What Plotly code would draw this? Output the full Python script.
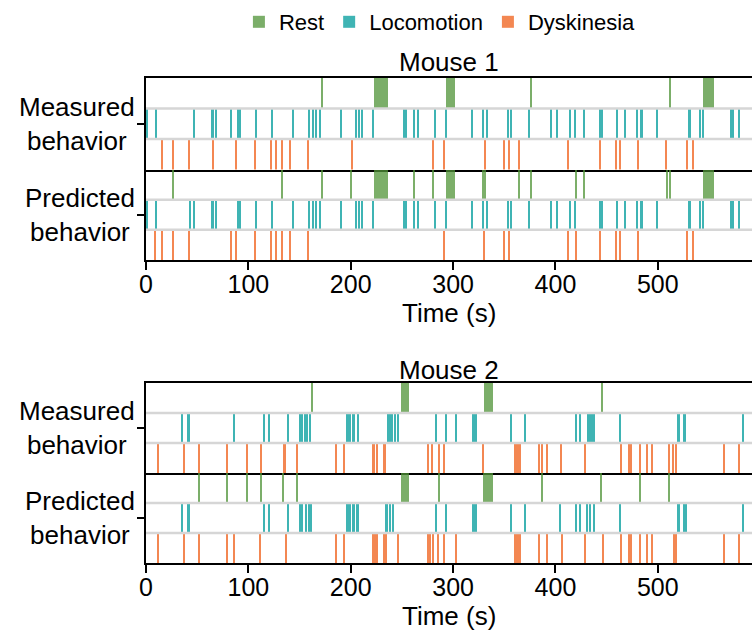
import plotly.graph_objects as go

# ---------------- data: behaviour bouts as [onset_s, duration_s] ----------------
categories = ["Rest", "Locomotion", "Dyskinesia"]
x_ticks = [0, 100, 200, 300, 400, 500]
t_max = 592

m1_meas_rest = [[171.0,1.5],[223.0,13.0],[293.0,9.0],[375.5,1.5],[511.5,1.5],[544.5,10.5]]
m1_meas_loco = [[0.8,1.4],[9.0,1.4],[46.8,1.4],[63.5,3.0],[68.0,1.4],[82.3,1.4],[89.2,3.3],[107.1,1.4],
                [123.0,1.4],[142.9,1.4],[159.2,1.4],[162.4,1.4],[165.7,1.4],[169.6,1.4],[189.9,1.8],
                [204.2,2.2],[207.4,1.8],[210.3,1.4],[221.1,1.4],[251.4,3.3],[260.6,2.5],[264.4,2.6],
                [282.3,1.4],[292.4,1.4],[317.8,1.4],[328.0,2.0],[332.4,1.4],[352.9,1.4],[355.9,1.4],
                [373.2,1.4],[395.0,1.4],[400.3,2.6],[413.9,1.4],[418.7,1.4],[427.6,1.4],[442.6,4.2],
                [459.9,1.6],[467.6,1.4],[479.0,1.4],[482.7,2.6],[499.0,1.6],[529.9,2.6],[540.9,1.4],
                [543.2,1.4],[570.9,1.4],[573.4,1.4],[579.0,1.4]]
m1_meas_dysk = [[14.9,1.4],[26.3,1.4],[41.9,1.4],[64.7,1.4],[87.5,1.4],[106.1,1.4],[121.4,1.4],[126.6,1.4],
                [132.6,1.6],[140.0,1.7],[158.2,1.4],[200.5,1.4],[279.4,1.4],[290.8,1.4],[330.6,1.4],
                [349.7,1.4],[354.0,2.0],[364.0,1.4],[411.0,2.0],[443.2,1.4],[458.5,1.4],[463.0,1.4],
                [480.0,1.4],[507.6,1.4],[527.9,1.4],[534.0,1.4]]

m1_pred_rest = [[26.3,1.4],[132.2,1.4],[171.0,1.5],[199.9,1.4],[223.0,13.0],[261.5,1.4],[279.7,1.4],
                [293.0,9.0],[328.6,1.2],[330.8,1.4],[364.0,1.4],[375.5,1.5],[419.7,1.4],[426.9,1.4],
                [508.3,1.2],[511.5,1.5],[544.5,10.5]]
m1_pred_loco = [[0.8,1.4],[9.0,1.4],[42.4,1.4],[46.8,1.4],[63.5,3.0],[68.0,1.4],[89.2,3.3],[107.1,1.4],
                [123.0,1.4],[142.9,1.4],[159.2,1.4],[162.4,1.4],[165.7,1.4],[169.6,1.4],[189.9,1.8],
                [204.2,2.2],[207.4,1.8],[210.3,1.4],[221.1,1.4],[251.4,3.3],[260.6,2.5],[264.4,2.6],
                [282.3,1.4],[292.4,1.4],[317.8,1.4],[328.0,2.0],[332.4,1.4],[352.9,1.4],[355.9,1.4],
                [373.2,1.4],[395.0,1.4],[400.3,2.6],[413.9,1.4],[418.7,1.4],[442.6,4.2],
                [459.9,1.6],[467.6,1.4],[479.0,1.4],[482.7,2.6],[499.0,1.6],[529.9,2.6],[540.9,1.4],
                [543.2,1.4],[570.9,1.4],[573.4,1.4],[579.0,1.4]]
m1_pred_dysk = [[8.4,1.4],[14.9,1.4],[26.3,1.4],[41.9,1.4],[82.3,1.4],[87.5,1.4],[106.1,1.4],[121.4,1.4],
                [126.6,1.4],[132.6,1.6],[140.0,1.7],[158.2,1.4],[290.8,1.4],[329.8,1.4],[349.7,1.4],
                [354.5,1.4],[411.0,2.0],[419.7,1.4],[443.2,1.4],[458.5,1.4],[463.0,1.4],[480.0,1.4],
                [527.9,1.4],[534.0,1.4]]

m2_meas_rest = [[161.5,1.5],[249.0,8.3],[330.6,8.8],[444.8,1.5]]
m2_meas_loco = [[34.8,1.7],[39.8,3.2],[85.6,1.4],[114.9,1.4],[120.1,1.4],[138.6,1.4],[149.8,3.9],[154.4,4.2],
                [159.8,1.4],[195.4,4.6],[201.6,2.6],[205.9,2.2],[235.2,6.4],[242.9,1.4],[245.5,1.4],
                [282.9,1.4],[292.4,1.4],[302.5,1.4],[318.2,4.9],[356.2,1.4],[369.9,1.4],[419.7,1.4],
                [423.0,1.4],[430.6,3.2],[434.5,1.9],[437.6,1.4],[462.7,1.4],[519.1,2.6],[524.6,1.4],
                [526.2,1.4],[582.0,2.3]]
m2_meas_dysk = [[11.7,1.4],[36.7,1.4],[51.4,1.4],[78.4,1.4],[98.6,1.4],[111.4,1.6],[133.5,3.3],[146.8,1.4],
                [185.2,1.4],[193.4,1.4],[221.5,1.9],[225.0,1.4],[231.9,2.6],[275.2,1.7],[279.0,1.4],
                [285.6,1.7],[290.8,1.4],[329.2,1.4],[359.6,6.5],[383.3,1.4],[386.8,1.4],[391.1,1.4],
                [404.7,1.4],[428.5,1.4],[463.7,1.4],[470.9,1.4],[473.1,1.4],[482.3,1.4],[488.8,1.4],
                [494.3,1.4],[510.9,1.4],[514.8,1.4],[517.4,1.4],[563.7,1.4],[579.0,1.4]]

m2_pred_rest = [[51.7,1.4],[78.4,1.4],[98.6,1.4],[111.6,1.4],[133.8,1.4],[146.8,1.4],[249.0,8.3],
                [285.9,1.4],[329.0,10.4],[386.8,1.4],[444.2,1.5],[482.3,1.4],[510.9,1.4]]
m2_pred_loco = [[34.8,1.7],[39.8,3.2],[114.9,1.4],[120.1,1.4],[138.6,1.4],[149.8,3.9],[155.0,2.0],[158.4,1.6],
                [160.8,1.4],[195.4,4.6],[201.6,2.6],[205.6,2.5],[233.6,3.0],[237.4,2.0],[240.2,2.4],
                [282.9,1.4],[292.4,1.4],[318.2,4.9],[356.2,1.4],[369.9,1.4],[404.1,1.4],[419.7,1.4],
                [423.0,1.4],[429.9,1.3],[433.5,1.0],[436.4,2.3],[462.7,1.4],[519.1,2.6],[525.0,1.4],
                [526.6,1.4],[582.0,2.3]]
m2_pred_dysk = [[11.7,1.4],[36.7,1.4],[51.4,1.4],[78.4,1.4],[85.6,1.4],[111.0,1.4],[135.8,1.4],[185.2,1.4],
                [193.4,1.4],[221.5,1.4],[223.5,1.4],[225.6,1.4],[231.9,1.4],[234.4,1.4],[245.5,1.4],
                [275.2,1.4],[277.2,1.4],[279.7,1.4],[285.2,1.4],[290.8,1.4],[302.5,1.4],[359.6,6.5],
                [383.3,1.4],[391.7,1.4],[405.7,1.4],[428.5,1.4],[445.8,1.4],[463.7,1.4],[470.9,1.4],
                [473.1,1.4],[482.3,1.4],[488.8,1.4],[494.3,1.4],[515.2,3.3],[563.7,1.4],[579.0,1.4]]

panels = [
    ("Measured<br>behavior", [m1_meas_rest, m1_meas_loco, m1_meas_dysk]),
    ("Predicted<br>behavior", [m1_pred_rest, m1_pred_loco, m1_pred_dysk]),
    ("Measured<br>behavior", [m2_meas_rest, m2_meas_loco, m2_meas_dysk]),
    ("Predicted<br>behavior", [m2_pred_rest, m2_pred_loco, m2_pred_dysk]),
]
mouse_titles = ["Mouse 1", "Mouse 2"]

# ---------------- styling ----------------
colors = ["rgb(80,148,55)", "rgb(0,155,155)", "rgb(240,95,25)"]
row_y = [2, 1, 0]
FONT = "Liberation Sans, Arial, Helvetica, sans-serif"

W, H = 752, 634
top_px, bot_px = 78, 563
ph = bot_px - top_px
def fy(px):
    return (bot_px - px) / ph
domains = [(fy(169.5), fy(78)), (fy(260), fy(169.5)), (fy(473), fy(383)), (fy(563), fy(473))]

fig = go.Figure()
layout = dict(
    width=W, height=H,
    margin=dict(l=146, r=0, t=top_px, b=H - bot_px, autoexpand=False),
    plot_bgcolor="white", paper_bgcolor="white",
    barmode="overlay", bargap=0,
    font=dict(family=FONT, size=25, color="black"),
    showlegend=True,
    legend=dict(orientation="h", x=0.485, y=fy(22), xanchor="center", yanchor="middle",
                font=dict(size=22), itemwidth=30, tracegroupgap=0, traceorder="normal"),
)
shapes, annotations = [], []

for i, (label, rows) in enumerate(panels):
    k = i + 1
    xa = "x" if k == 1 else f"x{k}"
    ya = "y" if k == 1 else f"y{k}"
    for j, ev in enumerate(rows):
        fig.add_trace(go.Bar(
            orientation="h",
            y=[row_y[j]] * len(ev),
            x=[e[1] for e in ev],
            base=[e[0] for e in ev],
            width=1.0,
            marker=dict(color=colors[j], line=dict(width=0)),
            opacity=0.75,
            name=categories[j],
            legendgroup=categories[j],
            showlegend=(i == 0),
            xaxis=xa, yaxis=ya,
            hoverinfo="skip",
        ))
    bottom = (i % 2 == 1)
    layout[f"xaxis{'' if k == 1 else k}"] = dict(
        domain=[0, 1], anchor=ya, range=[0, t_max],
        showline=True, linecolor="black", linewidth=2, mirror=not bottom,
        showgrid=False, zeroline=False,
        tickvals=x_ticks, ticks="outside" if bottom else "",
        ticklen=8, tickwidth=2, tickcolor="black",
        showticklabels=bottom, tickfont=dict(size=25), ticklabelstandoff=-7,
    )
    layout[f"yaxis{'' if k == 1 else k}"] = dict(
        domain=list(domains[i]), anchor=xa, range=[-0.5, 2.5],
        showline=True, linecolor="black", linewidth=2,
        showgrid=False, zeroline=False,
        tickvals=[1], ticktext=[""], ticks="outside", ticklen=7, tickwidth=2, tickcolor="black",
    )
    for yv in (0.5, 1.5):
        shapes.append(dict(type="line", xref=f"{xa} domain", yref=ya, x0=0, x1=1, y0=yv, y1=yv,
                           line=dict(color="#d6d6d6", width=2.5), layer="above"))
    annotations.append(dict(text=label, xref="paper", yref=ya, x=0, y=1, xanchor="right",
                            yanchor="middle", xshift=-9, align="center", showarrow=False,
                            font=dict(size=26)))

annotations.append(dict(text=mouse_titles[0], xref="paper", yref="paper", x=0.5, y=fy(62),
                        xanchor="center", yanchor="middle", showarrow=False, font=dict(size=26)))
annotations.append(dict(text=mouse_titles[1], xref="paper", yref="paper", x=0.5, y=fy(370),
                        xanchor="center", yanchor="middle", showarrow=False, font=dict(size=26)))
for ypx in (313, 616):
    annotations.append(dict(text="Time (s)", xref="paper", yref="paper", x=0.5, y=fy(ypx),
                            xanchor="center", yanchor="middle", showarrow=False, font=dict(size=26)))

layout["shapes"] = shapes
layout["annotations"] = annotations
fig.update_layout(**layout)
fig.write_html("out.html", config={"displayModeBar": False},
               post_script="document.body.style.margin='0';document.body.style.overflow='hidden';")
